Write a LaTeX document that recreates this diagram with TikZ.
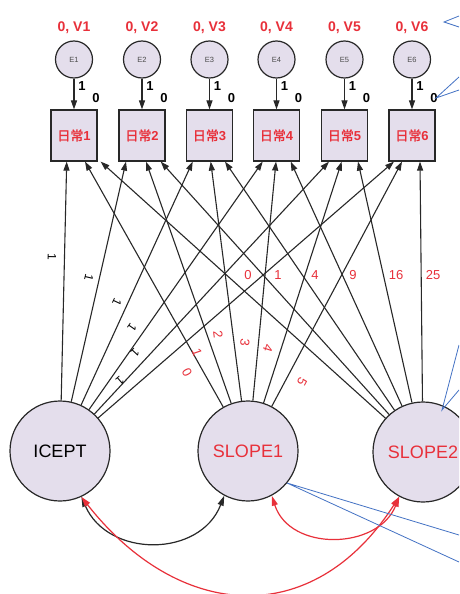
\documentclass[tikz,border=0pt]{standalone}
\usepackage{fontspec}
\setmainfont{Liberation Sans}
\newfontfamily\cjk{Noto Sans CJK JP}[AutoFakeBold=2]
\usetikzlibrary{arrows.meta,calc}
\definecolor{amred}{RGB}{232,48,58}
\definecolor{amfill}{RGB}{228,222,236}
\definecolor{amline}{RGB}{40,40,40}
\definecolor{callblue}{RGB}{68,114,196}
\begin{document}
\begin{tikzpicture}[x=1pt,y=-1pt,
  lat/.style={circle,draw=amline,line width=1.2pt,fill=amfill,minimum size=100pt,inner sep=0pt,font=\fontsize{18}{20}\selectfont},
  err/.style={circle,draw=amline,line width=1.2pt,fill=amfill,minimum size=37pt,inner sep=0pt,font=\fontsize{7.5}{8}\selectfont,text=black!70},
  obs/.style={rectangle,draw=amline,line width=1.2pt,fill=amfill,minimum width=46pt,minimum height=51pt,inner sep=0pt,text=amred,font=\fontsize{13}{14}\selectfont\bfseries},
  reg/.style={draw=amline,line width=1.1pt,-{Triangle[length=9pt,width=6pt]}},
  cov/.style={line width=1.2pt,{Triangle[length=10pt,width=6pt]}-{Triangle[length=10pt,width=6pt]}},
  lbl/.style={inner sep=0pt,font=\fontsize{12}{14}\selectfont},
  meanlbl/.style={inner sep=0pt,font=\fontsize{13}{14}\selectfont\bfseries},
  vlbl/.style={inner sep=0pt,font=\fontsize{14}{16}\selectfont\bfseries,text=amred},
  rlbl/.style={inner sep=0pt,font=\fontsize{13}{15}\selectfont,text=amred},
  callout/.style={draw=callblue,line width=0.8pt}]
\useasboundingbox (0,0) rectangle (459,594);
\fill[white] (0,0) rectangle (459,594);
\clip (0,0) rectangle (459,594);

% observed variables, errors
\foreach \i/\x in {1/74,2/142,3/209.5,4/276.5,5/344.5,6/412} {
  \node[vlbl] (v\i) at (\x,27.5) {0, V\i};
  \node[err] (e\i) at (\x,59.5) {E\i};
  \node[obs] (b\i) at (\x,135.5) {{\cjk 日常}\i};
  \draw[reg] (e\i) -- (b\i);
  \node[meanlbl] (one\i) at (\x+8,86) {1};
  \node[meanlbl] (zero\i) at (\x+22,98.5) {0};
}

% latent factors
\node[lat] (ic) at (60,451) {ICEPT};
\node[lat,text=amred] (s1) at (248,451) {SLOPE1};
\node[lat,text=amred] (s2) at (423,452) {SLOPE2};

% ICEPT loadings
\draw[reg] (ic) -- ($(b1.south)+(-7.3,0)$);
\draw[reg] (ic) -- ($(b2.south)+(-16,0)$);
\draw[reg] (ic) -- ($(b3.south)+(-16.8,0)$);
\draw[reg] (ic) -- ($(b4.south)+(-13.8,0)$);
\draw[reg] (ic) -- ($(b5.south)+(-15.5,0)$);
\draw[reg] (ic) -- ($(b6.south)+(-18,0)$);
% SLOPE1 loadings
\draw[reg] (s1) -- ($(b1.south)+(11,0)$);
\draw[reg] (s1) -- ($(b2.south)+(4,0)$);
\draw[reg] (s1) -- ($(b3.south)+(1.2,0)$);
\draw[reg] (s1) -- ($(b4.south)+(-0.5,0)$);
\draw[reg] (s1) -- ($(b5.south)+(-2.8,0)$);
\draw[reg] (s1) -- ($(b6.south)+(-10,0)$);
% SLOPE2 loadings
\draw[reg] (s2) -- ($(b1.south east)+(3,0)$);
\draw[reg] (s2) -- ($(b2.south)+(18.7,0)$);
\draw[reg] (s2) -- ($(b3.south)+(15.5,0)$);
\draw[reg] (s2) -- ($(b4.south)+(14.2,0)$);
\draw[reg] (s2) -- ($(b5.south)+(13.5,0)$);
\draw[reg] (s2) -- ($(b6.south)+(8,0)$);

% ICEPT loading labels
\node[lbl,rotate=-91] (li1) at (52,257) {1};
\node[lbl,rotate=-103] (li2) at (89,278) {1};
\node[lbl,rotate=-115] (li3) at (117,302) {1};
\node[lbl,rotate=-125] (li4) at (132,328) {1};
\node[lbl,rotate=-133] (li5) at (135,353) {1};
\node[lbl,rotate=-139] (li6) at (120,381) {1};
% SLOPE1 loading labels
\node[rlbl,rotate=-61] (ls1) at (187,372) {0};
\node[rlbl,rotate=-71] (ls2) at (197,352) {1};
\node[rlbl,rotate=-83] (ls3) at (218,335) {2};
\node[rlbl,rotate=-96] (ls4) at (245,343) {3};
\node[rlbl,rotate=-108] (ls5) at (268,348) {4};
\node[rlbl,rotate=-118] (ls6) at (302,382) {5};
% SLOPE2 loading labels
\node[rlbl] (lt1) at (248,275) {0};
\node[rlbl] (lt2) at (278,275) {1};
\node[rlbl] (lt3) at (315,275) {4};
\node[rlbl] (lt4) at (353,275) {9};
\node[rlbl] (lt5) at (396,275) {16};
\node[rlbl] (lt6) at (433,275) {25};

% covariances
\draw[cov,amline] (ic.-65) .. controls (108,558) and (200,558) .. (s1.-118);
\draw[cov,amred] (s1.-62) .. controls (290,552) and (378,550) .. (s2.-118);
\draw[cov,amred] (ic.-65) .. controls (178,620) and (312,632) .. (s2.-118);

% callout lines
\coordinate (ca1) at (459,16);
\coordinate (ca2) at (459,27);
\coordinate (cv1) at (444,22);
\coordinate (cb1) at (459,77);
\coordinate (cb2) at (459,90);
\coordinate (cv2) at (436,98);
\coordinate (cc1) at (459,345);
\coordinate (cc2) at (459,390);
\coordinate (cv3) at (442,410);
\coordinate (cd1) at (459,535);
\coordinate (cd2) at (459,562);
\coordinate (cv4) at (287,483);
\draw[callout] (ca1) -- (cv1) -- (ca2);
\draw[callout] (cb1) -- (cv2) -- (cb2);
\draw[callout] (cc1) -- (cv3) -- (cc2);
\draw[callout] (cd1) -- (cv4) -- (cd2);
\end{tikzpicture}
\end{document}
